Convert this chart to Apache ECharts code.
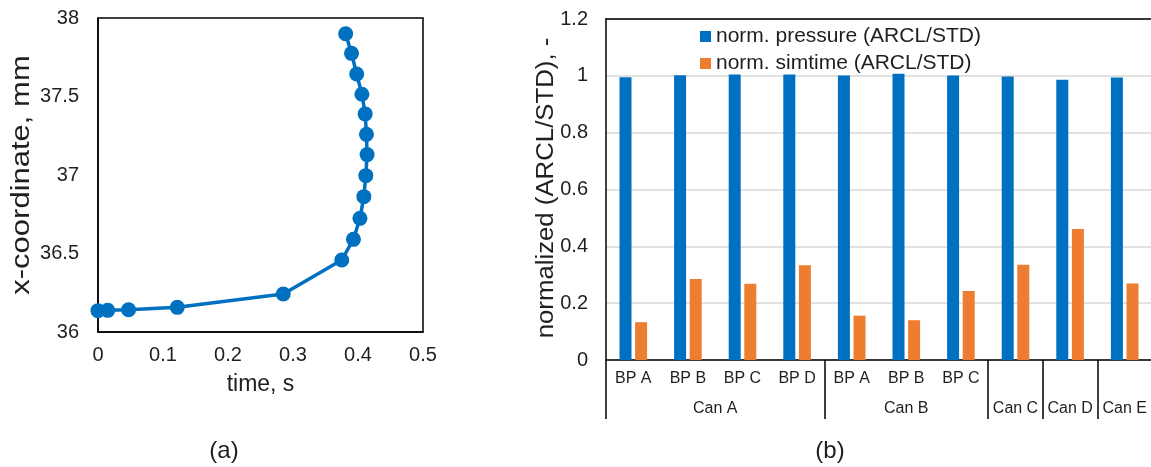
<!DOCTYPE html>
<html>
<head>
<meta charset="utf-8">
<script src="https://cdn.jsdelivr.net/npm/echarts@6/dist/echarts.min.js"></script>
<style>
html,body{margin:0;padding:0;background:#fff;}
#c{width:1151px;height:467px;}
</style>
</head>
<body>
<div id="c"></div>
<script>
// ---- Data: chart (a) ----
const timeS = [0.000, 0.015, 0.047, 0.122, 0.285, 0.375, 0.393, 0.403, 0.409, 0.412, 0.414, 0.413, 0.411, 0.406, 0.398, 0.390, 0.381];
const xCoordMm = [36.136, 36.138, 36.142, 36.157, 36.242, 36.459, 36.590, 36.724, 36.862, 36.996, 37.130, 37.259, 37.389, 37.514, 37.643, 37.775, 37.900];

// ---- Data: chart (b) ----
const bpLabels = ['BP A', 'BP B', 'BP C', 'BP D', 'BP A', 'BP B', 'BP C', '', '', ''];
const canGroups = ['Can A', 'Can B', 'Can C', 'Can D', 'Can E'];
const canGroupSizes = [4, 3, 1, 1, 1];
const normPressure = [0.995, 1.002, 1.005, 1.005, 1.001, 1.007, 1.001, 0.998, 0.986, 0.994];
const normSimtime = [0.133, 0.285, 0.268, 0.333, 0.156, 0.140, 0.243, 0.335, 0.461, 0.269];
const seriesNames = ['norm. pressure (ARCL/STD)', 'norm. simtime (ARCL/STD)'];

// ---- Text ----
const titleA = 'time, s';
const titleAy = 'x-coordinate, mm';
const titleBy = 'normalized (ARCL/STD), -';
const panelLabels = ['(a)', '(b)'];

// group boundaries and centres (in category units) derived from group sizes
const groupEdges = [0];
const groupCenters = [];
canGroupSizes.forEach(function (n) {
  const s = groupEdges[groupEdges.length - 1];
  groupCenters.push(s + n / 2);
  groupEdges.push(s + n);
});
const nCats = bpLabels.length;

const FONT = 'Liberation Sans, Arial, sans-serif';
const TXT = '#1f1f1f';
const BLUE = '#0070C0';
const ORANGE = '#ED7D31';

const chart = echarts.init(document.getElementById('c'), null, {renderer: 'canvas'});
chart.setOption({
  animation: false,
  backgroundColor: '#fff',
  textStyle: {fontFamily: FONT},
  grid: [
    {left: 98, top: 18, width: 325, height: 314, show: true, borderColor: '#000', borderWidth: 1.5, outerBoundsMode: 'none'},
    {left: 606, top: 19, width: 546, height: 341, show: false, outerBoundsMode: 'none'}
  ],
  legend: {
    orient: 'vertical',
    left: 695, top: 21,
    itemWidth: 11, itemHeight: 11,
    itemGap: 6,
    icon: 'rect',
    textStyle: {fontSize: 21, color: TXT, fontFamily: FONT},
    data: seriesNames
  },
  xAxis: [
    {
      gridIndex: 0, type: 'value', min: 0, max: 0.5, interval: 0.1,
      axisLine: {show: true, lineStyle: {color: '#000', width: 1.5}},
      axisTick: {show: false},
      splitLine: {show: false},
      axisLabel: {fontSize: 20, color: TXT, margin: 13, fontFamily: FONT},
      name: titleA, nameLocation: 'middle', nameGap: 41,
      nameTextStyle: {fontSize: 23, color: TXT, fontFamily: FONT}
    },
    {
      gridIndex: 1, type: 'category', data: bpLabels,
      axisLine: {show: true, lineStyle: {color: '#000', width: 1.5}},
      axisTick: {show: false},
      axisLabel: {fontSize: 16, color: TXT, margin: 11, interval: 0, fontFamily: FONT}
    },
    {
      gridIndex: 1, type: 'value', min: 0, max: nCats, position: 'bottom',
      axisLine: {show: false},
      splitLine: {show: false},
      axisTick: {show: true, customValues: groupEdges, length: 59, lineStyle: {color: '#000', width: 1.5}},
      axisLabel: {
        show: true, customValues: groupCenters, fontSize: 16, color: TXT, margin: 41, fontFamily: FONT,
        formatter: function (v) {
          const i = groupCenters.findIndex(function (c) { return Math.abs(c - v) < 1e-6; });
          return i >= 0 ? canGroups[i] : '';
        }
      }
    },
    {
      gridIndex: 1, type: 'value', min: 0, max: nCats, position: 'top',
      axisLine: {show: true, onZero: false, lineStyle: {color: '#000', width: 1.5}},
      axisTick: {show: false}, axisLabel: {show: false}, splitLine: {show: false}
    }
  ],
  yAxis: [
    {
      gridIndex: 0, type: 'value', min: 36, max: 38, interval: 0.5,
      axisLine: {show: true, lineStyle: {color: '#000', width: 1.5}},
      axisTick: {show: false},
      splitLine: {show: false},
      axisLabel: {fontSize: 20, color: TXT, margin: 19, fontFamily: FONT}
    },
    {
      gridIndex: 1, type: 'value', min: 0, max: 1.2, interval: 0.2,
      axisLine: {show: true, lineStyle: {color: '#000', width: 1.5}},
      axisTick: {show: false},
      splitLine: {show: true, lineStyle: {color: '#d9d9d9', width: 1.5}},
      axisLabel: {fontSize: 20, color: TXT, margin: 18, fontFamily: FONT}
    }
  ],
  graphic: [
    {type: 'text', x: 22, y: 175, rotation: Math.PI / 2, scaleX: 1.24,
     style: {text: titleAy, font: '25px ' + FONT, fill: TXT, align: 'center', verticalAlign: 'middle'}},
    {type: 'text', x: 547, y: 188, rotation: Math.PI / 2, scaleX: 1.12,
     style: {text: titleBy, font: '23px ' + FONT, fill: TXT, align: 'center', verticalAlign: 'middle'}},
    {type: 'text', x: 224, y: 451, style: {text: panelLabels[0], font: '24px ' + FONT, fill: TXT, align: 'center', verticalAlign: 'middle'}},
    {type: 'text', x: 830, y: 451, style: {text: panelLabels[1], font: '24px ' + FONT, fill: TXT, align: 'center', verticalAlign: 'middle'}}
  ],
  series: [
    {
      type: 'line', xAxisIndex: 0, yAxisIndex: 0,
      data: timeS.map(function (t, i) { return [t, xCoordMm[i]]; }),
      symbol: 'circle', symbolSize: 15, showAllSymbol: true, clip: false,
      lineStyle: {color: BLUE, width: 3.5},
      itemStyle: {color: BLUE}
    },
    {
      name: seriesNames[0], type: 'bar', xAxisIndex: 1, yAxisIndex: 1,
      data: normPressure, barWidth: 12, barGap: '30%',
      itemStyle: {color: BLUE}
    },
    {
      name: seriesNames[1], type: 'bar', xAxisIndex: 1, yAxisIndex: 1,
      data: normSimtime, barWidth: 12, barGap: '30%',
      itemStyle: {color: ORANGE}
    }
  ]
});
</script>
</body>
</html>
